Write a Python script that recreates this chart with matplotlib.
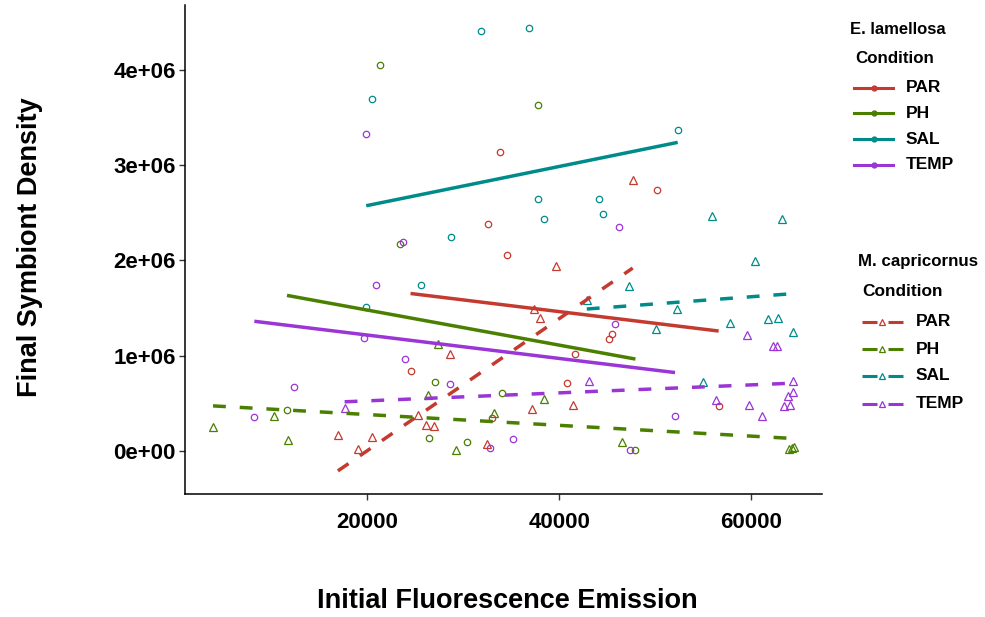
import numpy as np
import matplotlib
matplotlib.use("Agg")
import matplotlib.pyplot as plt
from matplotlib.lines import Line2D

plt.rcParams['font.family'] = ['Liberation Sans', 'DejaVu Sans']

conditions = ["PAR", "PH", "SAL", "TEMP"]
colors = {"PAR": "#C43A2F", "PH": "#4A7F00", "SAL": "#008B8B", "TEMP": "#9A35D6"}

# E. lamellosa (circles) : initial fluorescence, final density
el_x = {
    "PAR": [33810, 32560, 50240, 34540, 45520, 45210, 41630, 24510, 40830, 33050, 56630],
    "PH": [21280, 23360, 37840, 27110, 34090, 11630, 26420, 30420, 47950],
    "SAL": [20450, 31870, 36830, 37810, 44170, 44610, 38400, 28710, 52360, 19890, 25620],
    "TEMP": [19820, 23710, 46210, 20930, 19610, 23920, 12320, 8230, 45860, 28650, 32810, 35210, 47400, 52080],
}
el_y = {
    "PAR": [3.14e6, 2.38e6, 2.74e6, 2.06e6, 1.23e6, 1.18e6, 1.02e6, 0.837e6, 0.714e6, 0.343e6, 0.473e6],
    "PH": [4.05e6, 2.17e6, 3.63e6, 0.72e6, 0.606e6, 0.427e6, 0.14e6, 0.091e6, 0.01e6],
    "SAL": [3.69e6, 4.41e6, 4.44e6, 2.65e6, 2.64e6, 2.49e6, 2.44e6, 2.25e6, 3.37e6, 1.51e6, 1.74e6],
    "TEMP": [3.33e6, 2.19e6, 2.35e6, 1.74e6, 1.19e6, 0.97e6, 0.675e6, 0.357e6, 1.33e6, 0.70e6, 0.032e6, 0.13e6, 0.01e6, 0.364e6],
}

# M. capricornus (triangles)
mc_x = {
    "PAR": [47670, 39720, 37390, 37980, 28600, 41460, 37190, 26070, 26910, 32460, 16940, 20450, 18990, 25270],
    "PH": [3920, 10240, 11730, 27390, 26350, 38400, 33190, 29300, 46520, 63920, 64230, 64440],
    "SAL": [55970, 63260, 42880, 60450, 47290, 52320, 50100, 57840, 61730, 62810, 64380, 54960],
    "TEMP": [17640, 43080, 59610, 62320, 62680, 64380, 64340, 63820, 56350, 59820, 63440, 64090, 61150],
}
mc_y = {
    "PAR": [2.84e6, 1.94e6, 1.49e6, 1.40e6, 1.02e6, 0.487e6, 0.445e6, 0.273e6, 0.259e6, 0.074e6, 0.171e6, 0.144e6, 0.018e6, 0.378e6],
    "PH": [0.255e6, 0.368e6, 0.112e6, 1.12e6, 0.585e6, 0.543e6, 0.40e6, 0.014e6, 0.095e6, 0.024e6, 0.03e6, 0.04e6],
    "SAL": [2.47e6, 2.43e6, 1.59e6, 1.99e6, 1.73e6, 1.49e6, 1.285e6, 1.345e6, 1.39e6, 1.40e6, 1.245e6, 0.72e6],
    "TEMP": [0.455e6, 0.74e6, 1.22e6, 1.10e6, 1.10e6, 0.735e6, 0.617e6, 0.574e6, 0.539e6, 0.48e6, 0.47e6, 0.48e6, 0.364e6],
}

x_ticks = [20000, 40000, 60000]
x_ticklabels = ["20000", "40000", "60000"]
y_ticks = [0, 1e6, 2e6, 3e6, 4e6]
y_ticklabels = ["0e+00", "1e+06", "2e+06", "3e+06", "4e+06"]

W, H = 985, 617
fig = plt.figure(figsize=(W / 100, H / 100), dpi=100)
ax = fig.add_axes([185 / W, 1 - 494 / H, (822 - 185) / W, (494 - 5) / H])

LW = 2.5
DASH = (3.7, 4.0)

# points first
for c in conditions:
    ax.plot(el_x[c], el_y[c], linestyle='none', marker='o', markersize=4.6,
            markerfacecolor='none', markeredgecolor=colors[c], markeredgewidth=0.9, zorder=2)
    ax.plot(mc_x[c], mc_y[c], linestyle='none', marker='^', markersize=5.2,
            markerfacecolor='none', markeredgecolor=colors[c], markeredgewidth=0.9, zorder=2)

# linear fits
for c in conditions:
    x = np.array(el_x[c], float); y = np.array(el_y[c], float)
    b, a = np.polyfit(x, y, 1)
    xs = np.array([x.min(), x.max()])
    ax.plot(xs, a + b * xs, color=colors[c], lw=LW, solid_capstyle='butt', zorder=3)
for c in conditions:
    x = np.array(mc_x[c], float); y = np.array(mc_y[c], float)
    b, a = np.polyfit(x, y, 1)
    xs = np.array([x.min(), x.max()])
    ax.plot(xs, a + b * xs, color=colors[c], lw=LW, dashes=DASH, dash_capstyle='butt', zorder=3)

ax.set_xlim(1000, 67400)
ax.set_ylim(-0.45e6, 4.68e6)
ax.set_xticks(x_ticks)
ax.set_xticklabels(x_ticklabels)
ax.set_yticks(y_ticks)
ax.set_yticklabels(y_ticklabels)
for s in ['top', 'right']:
    ax.spines[s].set_visible(False)
for s in ['left', 'bottom']:
    ax.spines[s].set_color('black')
    ax.spines[s].set_linewidth(1.1)
ax.tick_params(axis='both', length=4, width=1, color='#333333', labelsize=16)
ax.tick_params(axis='x', pad=9)
ax.tick_params(axis='y', pad=2.5)
for lab in ax.get_xticklabels() + ax.get_yticklabels():
    lab.set_fontweight('bold')
    lab.set_color('black')

fig.text(507 / W, 1 - 601 / H, "Initial Fluorescence Emission", ha='center', va='center',
         fontsize=19.5, fontweight='bold')
fig.text(30 / W, 1 - 247 / H, "Final Symbiont Density", ha='center', va='center',
         rotation=90, fontsize=19.5, fontweight='bold')

# legends (manual)
def fx(px):
    return px / W

def fy(py):
    return 1 - py / H

fig.text(fx(850), fy(30), "E. lamellosa", fontsize=12, fontweight='bold', va='center', ha='left')
fig.text(fx(855), fy(58.5), "Condition", fontsize=12.2, fontweight='bold', va='center', ha='left')
ys1 = [88, 113, 139, 165]
for c, yy in zip(conditions, ys1):
    fig.add_artist(Line2D([fx(854), fx(893)], [fy(yy), fy(yy)], color=colors[c], lw=2.2,
                          transform=fig.transFigure))
    fig.add_artist(Line2D([fx(873.5)], [fy(yy)], color=colors[c], marker='o', markersize=3.5,
                          linestyle='none', transform=fig.transFigure))
    fig.text(fx(906), fy(yy), c, fontsize=12.5, fontweight='bold', va='center', ha='left')

fig.text(fx(858), fy(262), "M. capricornus", fontsize=12.2, fontweight='bold', va='center', ha='left')
fig.text(fx(862), fy(292), "Condition", fontsize=12.4, fontweight='bold', va='center', ha='left')
ys2 = [322, 349, 376, 403.5]
for c, yy in zip(conditions, ys2):
    fig.add_artist(Line2D([fx(862), fx(877)], [fy(yy), fy(yy)], color=colors[c], lw=2.2,
                          transform=fig.transFigure, solid_capstyle='butt'))
    fig.add_artist(Line2D([fx(888), fx(903)], [fy(yy), fy(yy)], color=colors[c], lw=2.2,
                          transform=fig.transFigure, solid_capstyle='butt'))
    fig.add_artist(Line2D([fx(882)], [fy(yy)], color=colors[c], marker='^', markersize=4.5,
                          markerfacecolor='none', markeredgewidth=0.9, linestyle='none',
                          transform=fig.transFigure))
    fig.text(fx(916), fy(yy), c, fontsize=12.5, fontweight='bold', va='center', ha='left')

fig.savefig("out.png", dpi=100)
